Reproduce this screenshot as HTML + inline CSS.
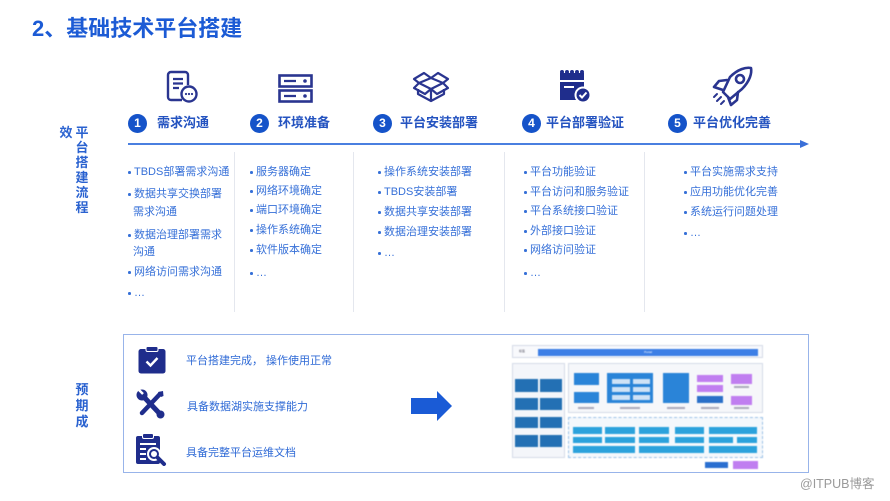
<!DOCTYPE html>
<html><head><meta charset="utf-8">
<style>
*{margin:0;padding:0;box-sizing:border-box}
html,body{width:890px;height:501px;background:#fff;overflow:hidden}
body{position:relative;font-family:"Liberation Sans","Noto Sans CJK SC",sans-serif}
.a{position:absolute}
.t{position:absolute;white-space:nowrap}
.b{position:absolute;white-space:nowrap;font-size:11px;line-height:14px;height:14px;color:#3670d8}
.b.d::before{content:"";position:absolute;left:-6px;top:6px;width:2.5px;height:2.5px;border-radius:50%;background:#3670d8}
.st{position:absolute;font-size:13px;font-weight:bold;color:#2453c0;line-height:18px;white-space:nowrap}
.cir{position:absolute;width:19px;height:19px;border-radius:50%;background:#1553c9;color:#fff;font-size:12px;font-weight:bold;text-align:center;line-height:19px}
.sep{position:absolute;top:152px;width:1px;height:160px;background:#e4e7ee}
.vl{position:absolute;font-size:13px;font-weight:bold;color:#2a62d0;line-height:15px;width:14px;text-align:center}
.bt{position:absolute;font-size:11px;line-height:14px;color:#2f6ad6;white-space:nowrap}
.r{position:absolute;filter:blur(0.5px)}
.tx{font-size:3px;color:#fff;text-align:center;overflow:hidden;line-height:6px}
</style></head><body>

<div class="t" style="left:32px;top:17px;font-size:22px;line-height:24px;font-weight:bold;color:#1c5bd5">2、基础技术平台搭建</div>

<!-- icons -->
<svg class="a" style="left:164px;top:70px" width="36" height="34" viewBox="0 0 36 34">
 <path d="M18 30 H7 a3 3 0 0 1 -3 -3 V5 a3 3 0 0 1 3 -3 H21 a3 3 0 0 1 3 3 V15" fill="none" stroke="#2a3590" stroke-width="2.4"/>
 <path d="M9 9 H19 M9 13.5 H19 M9 18 H15" stroke="#2a3590" stroke-width="2.2"/>
 <circle cx="25" cy="24" r="7.5" fill="#fff" stroke="#2a3590" stroke-width="2.4"/>
 <circle cx="22" cy="24" r="1.1" fill="#2a3590"/><circle cx="25" cy="24" r="1.1" fill="#2a3590"/><circle cx="28" cy="24" r="1.1" fill="#2a3590"/>
</svg>
<svg class="a" style="left:278px;top:74px" width="36" height="30" viewBox="0 0 36 30">
 <rect x="1.5" y="1.5" width="32" height="11" fill="none" stroke="#2a3590" stroke-width="2.6"/>
 <rect x="1.5" y="16.5" width="32" height="11" fill="none" stroke="#2a3590" stroke-width="2.6"/>
 <path d="M6 7 H18 M6 22 H18" stroke="#2a3590" stroke-width="2.2"/>
 <circle cx="27" cy="7" r="1.8" fill="#2a3590"/><circle cx="27" cy="22" r="1.8" fill="#2a3590"/>
</svg>
<svg class="a" style="left:412px;top:69px" width="38" height="34" viewBox="0 0 38 34">
 <g fill="none" stroke="#2a3590" stroke-width="2.2" stroke-linejoin="round">
 <path d="M7 14 L19 9 L31 14 L19 20 Z"/>
 <path d="M7 14 L2 10 L12 4 L19 9 L26 4 L36 10 L31 14"/>
 <path d="M7 14 L2 19 L13 25 L19 20 L25 25 L36 19 L31 14"/>
 <path d="M6 20 V25 L19 32 L32 25 V20 M19 20 V32"/>
 </g>
</svg>
<svg class="a" style="left:558px;top:68px" width="34" height="36" viewBox="0 0 34 36">
 <path d="M2 5 h24 v27 h-24 Z" fill="#1f2d8c"/>
 <g fill="#1f2d8c"><circle cx="4" cy="4" r="2"/><circle cx="9" cy="4" r="2"/><circle cx="14" cy="4" r="2"/><circle cx="19" cy="4" r="2"/><circle cx="24" cy="4" r="2"/></g>
 <rect x="2" y="12" width="24" height="2" fill="#fff"/>
 <rect x="6" y="18" width="10" height="2" fill="#fff"/>
 <circle cx="25" cy="27" r="7.5" fill="#1f2d8c" stroke="#fff" stroke-width="2"/>
 <path d="M21.5 27 L24 29.5 L28.5 24.5" fill="none" stroke="#fff" stroke-width="2"/>
</svg>
<svg class="a" style="left:709px;top:65px" width="46" height="42" viewBox="0 0 46 42">
 <g fill="none" stroke="#2a3590" stroke-width="2.6" stroke-linejoin="round" stroke-linecap="round">
 <path d="M14 27 L21 34 L33 24 C41 16 43 8 42 3 C37 2 29 4 21 12 Z"/>
 <path d="M18 15 L10 16 L5 22 L14 25"/>
 <path d="M29 27 L28 35 L22 40 L19 32"/>
 <circle cx="31" cy="14" r="4"/>
 <path d="M8 36 L12 32 M12 39 L15 36 M5 32 L8 29" stroke-width="2"/>
 </g>
</svg>

<!-- steps -->
<div class="cir" style="left:128px;top:114px">1</div><div class="st" style="left:157px;top:114px">需求沟通</div>
<div class="cir" style="left:250px;top:114px">2</div><div class="st" style="left:278px;top:114px">环境准备</div>
<div class="cir" style="left:373px;top:114px">3</div><div class="st" style="left:400px;top:114px">平台安装部署</div>
<div class="cir" style="left:522px;top:114px">4</div><div class="st" style="left:546px;top:114px">平台部署验证</div>
<div class="cir" style="left:668px;top:114px">5</div><div class="st" style="left:693px;top:114px">平台优化完善</div>

<!-- line -->
<div class="a" style="left:128px;top:143px;width:676px;height:2px;background:#4a7fe0"></div>
<svg class="a" style="left:800px;top:140px" width="10" height="8"><path d="M0 0 L9 4 L0 8 Z" fill="#3a6fd8"/></svg>

<!-- vertical labels -->
<div class="vl" style="left:59px;top:125px">效</div>
<div class="vl" style="left:75px;top:125px">平<br>台<br>搭<br>建<br>流<br>程</div>
<div class="vl" style="left:75px;top:382px;line-height:16px">预<br>期<br>成</div>

<!-- separators -->
<div class="sep" style="left:234px"></div>
<div class="sep" style="left:353px"></div>
<div class="sep" style="left:504px"></div>
<div class="sep" style="left:644px"></div>

<!-- column 1 -->
<div class="b d" style="left:134px;top:165px">TBDS部署需求沟通</div>
<div class="b d" style="left:134px;top:187px">数据共享交换部署</div>
<div class="b" style="left:133px;top:205px">需求沟通</div>
<div class="b d" style="left:134px;top:228px">数据治理部署需求</div>
<div class="b" style="left:133px;top:245px">沟通</div>
<div class="b d" style="left:134px;top:265px">网络访问需求沟通</div>
<div class="b d" style="left:134px;top:286px">…</div>
<!-- column 2 -->
<div class="b d" style="left:256px;top:165px">服务器确定</div>
<div class="b d" style="left:256px;top:184px">网络环境确定</div>
<div class="b d" style="left:256px;top:203px">端口环境确定</div>
<div class="b d" style="left:256px;top:223px">操作系统确定</div>
<div class="b d" style="left:256px;top:243px">软件版本确定</div>
<div class="b d" style="left:256px;top:266px">…</div>
<!-- column 3 -->
<div class="b d" style="left:384px;top:165px">操作系统安装部署</div>
<div class="b d" style="left:384px;top:185px">TBDS安装部署</div>
<div class="b d" style="left:384px;top:205px">数据共享安装部署</div>
<div class="b d" style="left:384px;top:225px">数据治理安装部署</div>
<div class="b d" style="left:384px;top:246px">…</div>
<!-- column 4 -->
<div class="b d" style="left:530px;top:165px">平台功能验证</div>
<div class="b d" style="left:530px;top:185px">平台访问和服务验证</div>
<div class="b d" style="left:530px;top:204px">平台系统接口验证</div>
<div class="b d" style="left:530px;top:224px">外部接口验证</div>
<div class="b d" style="left:530px;top:243px">网络访问验证</div>
<div class="b d" style="left:530px;top:266px">…</div>
<!-- column 5 -->
<div class="b d" style="left:690px;top:165px">平台实施需求支持</div>
<div class="b d" style="left:690px;top:185px">应用功能优化完善</div>
<div class="b d" style="left:690px;top:205px">系统运行问题处理</div>
<div class="b d" style="left:690px;top:226px">…</div>

<!-- bottom box -->
<div class="a" style="left:123px;top:334px;width:686px;height:139px;border:1.5px solid #98b4ea"></div>

<svg class="a" style="left:138px;top:346px" width="28" height="28" viewBox="0 0 28 28">
 <rect x="0.5" y="3" width="27" height="24.5" rx="2.5" fill="#1f2d8c"/>
 <rect x="8" y="0.5" width="12" height="5" rx="1.5" fill="#1f2d8c" stroke="#fff" stroke-width="1"/>
 <path d="M8.5 15.5 L12.5 19.5 L19.5 12" fill="none" stroke="#fff" stroke-width="2.4"/>
</svg>
<svg class="a" style="left:136px;top:389px" width="30" height="31" viewBox="0 0 30 31">
 <g stroke="#1f2d8c" stroke-linecap="round">
 <path d="M7 7 L24 25" stroke-width="5"/>
 <path d="M24 5 L6 24" stroke-width="4.5"/>
 </g>
 <circle cx="6" cy="6" r="5.5" fill="#1f2d8c"/>
 <path d="M3 1 L7 5" stroke="#fff" stroke-width="2.5"/>
 <path d="M22 3 L27 2 L27.5 7 L25 8 Z" fill="#1f2d8c"/>
 <circle cx="24.5" cy="25.5" r="4" fill="#1f2d8c"/>
</svg>
<svg class="a" style="left:135px;top:433px" width="32" height="33" viewBox="0 0 32 33">
 <rect x="1" y="3" width="24" height="28" rx="2" fill="#1f2d8c"/>
 <rect x="7.5" y="0.5" width="11" height="5" rx="1.5" fill="#1f2d8c" stroke="#fff" stroke-width="1"/>
 <path d="M5 11 H21 M5 16 H11 M5 21 H11 M5 26 H11" stroke="#fff" stroke-width="2"/>
 <circle cx="19" cy="21" r="6" fill="#1f2d8c" stroke="#fff" stroke-width="2"/>
 <circle cx="19" cy="21" r="3" fill="#fff"/>
 <path d="M23 25 L29 31" stroke="#1f2d8c" stroke-width="4" stroke-linecap="round"/>
</svg>

<div class="bt" style="left:186px;top:354px">平台搭建完成，&nbsp;操作使用正常</div>
<div class="bt" style="left:187px;top:400px">具备数据湖实施支撑能力</div>
<div class="bt" style="left:186px;top:446px">具备完整平台运维文档</div>

<!-- big arrow -->
<svg class="a" style="left:411px;top:391px" width="42" height="30" viewBox="0 0 42 30">
 <path d="M0 7 H26 V0 L41 15 L26 30 V23 H0 Z" fill="#1a5bd6"/>
</svg>

<!-- architecture mini diagram -->
<div class="r" style="left:512px;top:345px;width:251px;height:13px;border:1px solid #d5dbe8;background:#f8f9fc"></div>
<div class="r tx" style="left:516px;top:348px;width:12px;color:#445">标签</div>
<div class="r tx" style="left:538px;top:349px;width:220px;height:7px;background:#3d7fe6">Portal</div>

<div class="r" style="left:512px;top:363px;width:53px;height:95px;border:1px solid #d5dbe8;background:#f4f6fa"></div>
<div class="r" style="left:515px;top:379px;width:23px;height:13px;background:#2370b4"></div>
<div class="r" style="left:540px;top:379px;width:22px;height:13px;background:#2370b4"></div>
<div class="r" style="left:515px;top:398px;width:23px;height:12px;background:#2370b4"></div>
<div class="r" style="left:540px;top:398px;width:22px;height:12px;background:#2370b4"></div>
<div class="r" style="left:515px;top:417px;width:23px;height:11px;background:#2370b4"></div>
<div class="r" style="left:540px;top:417px;width:22px;height:11px;background:#2370b4"></div>
<div class="r" style="left:515px;top:435px;width:23px;height:12px;background:#2370b4"></div>
<div class="r" style="left:540px;top:435px;width:22px;height:12px;background:#2370b4"></div>

<div class="r" style="left:568px;top:363px;width:195px;height:50px;border:1px solid #d5dbe8;background:#f6f7fa"></div>
<div class="r" style="left:574px;top:373px;width:25px;height:12px;background:#2a84d8"></div>
<div class="r" style="left:574px;top:392px;width:25px;height:11px;background:#2a84d8"></div>
<div class="r" style="left:607px;top:373px;width:46px;height:30px;background:#2a84d8"></div>
<div class="r" style="left:612px;top:379px;width:18px;height:5px;background:#cfe2f6"></div>
<div class="r" style="left:633px;top:379px;width:17px;height:5px;background:#cfe2f6"></div>
<div class="r" style="left:612px;top:387px;width:18px;height:5px;background:#cfe2f6"></div>
<div class="r" style="left:633px;top:387px;width:17px;height:5px;background:#cfe2f6"></div>
<div class="r" style="left:612px;top:395px;width:18px;height:5px;background:#cfe2f6"></div>
<div class="r" style="left:633px;top:395px;width:17px;height:5px;background:#cfe2f6"></div>
<div class="r" style="left:663px;top:373px;width:26px;height:30px;background:#2a84d8"></div>
<div class="r" style="left:697px;top:375px;width:26px;height:7px;background:#c07ef0"></div>
<div class="r" style="left:697px;top:385px;width:26px;height:7px;background:#c07ef0"></div>
<div class="r" style="left:697px;top:396px;width:26px;height:7px;background:#2a6fc8"></div>
<div class="r" style="left:731px;top:374px;width:21px;height:10px;background:#c07ef0"></div>
<div class="r" style="left:731px;top:396px;width:21px;height:9px;background:#c07ef0"></div>
<div class="r" style="left:578px;top:407px;width:16px;height:2px;background:#aab"></div>
<div class="r" style="left:620px;top:407px;width:20px;height:2px;background:#aab"></div>
<div class="r" style="left:667px;top:407px;width:18px;height:2px;background:#aab"></div>
<div class="r" style="left:701px;top:407px;width:18px;height:2px;background:#aab"></div>
<div class="r" style="left:734px;top:386px;width:15px;height:2px;background:#aab"></div>
<div class="r" style="left:734px;top:407px;width:15px;height:2px;background:#aab"></div>

<div class="r" style="left:568px;top:417px;width:195px;height:41px;border:1px dashed #9ec3e8;background:#f4f8fc"></div>
<div class="r" style="left:573px;top:427px;width:29px;height:7px;background:#2ba2dc"></div>
<div class="r" style="left:605px;top:427px;width:30px;height:7px;background:#2ba2dc"></div>
<div class="r" style="left:639px;top:427px;width:30px;height:7px;background:#2ba2dc"></div>
<div class="r" style="left:675px;top:427px;width:29px;height:7px;background:#2ba2dc"></div>
<div class="r" style="left:709px;top:427px;width:48px;height:7px;background:#2ba2dc"></div>
<div class="r" style="left:573px;top:437px;width:29px;height:6px;background:#2ba2dc"></div>
<div class="r" style="left:605px;top:437px;width:30px;height:6px;background:#2ba2dc"></div>
<div class="r" style="left:639px;top:437px;width:30px;height:6px;background:#2ba2dc"></div>
<div class="r" style="left:675px;top:437px;width:29px;height:6px;background:#2ba2dc"></div>
<div class="r" style="left:709px;top:437px;width:24px;height:6px;background:#2ba2dc"></div>
<div class="r" style="left:737px;top:437px;width:20px;height:6px;background:#2ba2dc"></div>
<div class="r" style="left:573px;top:446px;width:62px;height:7px;background:#2ba2dc"></div>
<div class="r" style="left:639px;top:446px;width:65px;height:7px;background:#2ba2dc"></div>
<div class="r" style="left:709px;top:446px;width:48px;height:7px;background:#2ba2dc"></div>

<div class="r" style="left:705px;top:462px;width:23px;height:6px;background:#2a6fd0"></div>
<div class="r" style="left:733px;top:461px;width:25px;height:8px;background:#c07ef0"></div>

<div class="t" style="left:800px;top:477px;font-size:12.5px;line-height:15px;color:#9a9a9a">@ITPUB博客</div>

</body></html>
